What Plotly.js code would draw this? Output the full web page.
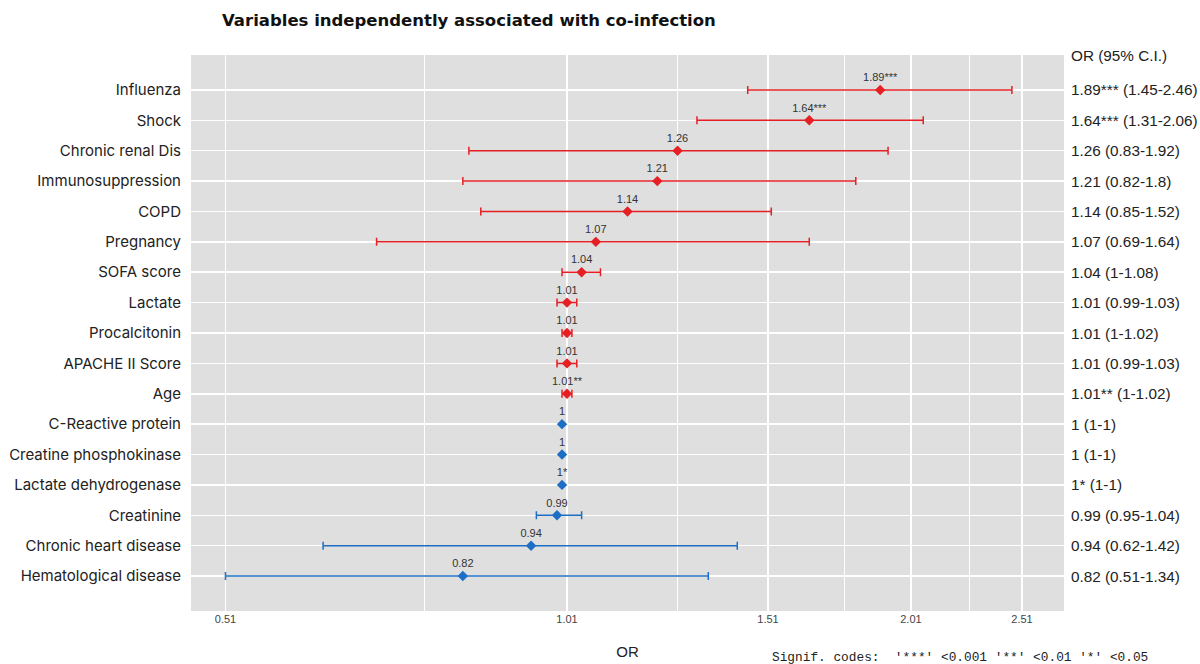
<!DOCTYPE html>
<html>
<head>
<meta charset="utf-8">
<script src="https://cdn.plot.ly/plotly-3.0.1.min.js"></script>
<style>
html,body{margin:0;padding:0;background:#fff;}
#chart{width:1200px;height:664px;}
</style>
</head>
<body>
<div id="chart"></div>
<script>
// ---- data ----
const variables = ["Influenza","Shock","Chronic renal Dis","Immunosuppression","COPD","Pregnancy",
  "SOFA score","Lactate","Procalcitonin","APACHE II Score","Age","C-Reactive protein",
  "Creatine phosphokinase","Lactate dehydrogenase","Creatinine","Chronic heart disease","Hematological disease"];
const oddsRatio = [1.89,1.64,1.26,1.21,1.14,1.07,1.04,1.01,1.01,1.01,1.01,1,1,1,0.99,0.94,0.82];
const ciLower   = [1.45,1.31,0.83,0.82,0.85,0.69,1,0.99,1,0.99,1,1,1,1,0.95,0.62,0.51];
const ciUpper   = [2.46,2.06,1.92,1.8,1.52,1.64,1.08,1.03,1.02,1.03,1.02,1,1,1,1.04,1.42,1.34];
const signif    = ["***","***","","","","","","","","","**","","","*","","",""];
const xTickVals = [0.51,1.01,1.51,2.01,2.51];
const xMinorVals = [0.76,1.26,1.76,2.26];
const refLine = 1;

const RED = "#E51F24", BLUE = "#1D6FC6";

function buildTrace(filterFn, color){
  const idx = variables.map((v,i)=>i).filter(filterFn);
  return {
    type: "scatter",
    mode: "markers+text",
    x: idx.map(i=>oddsRatio[i]),
    y: idx.map(i=>variables[i]),
    text: idx.map(i=>oddsRatio[i] + signif[i]),
    textposition: "top center",
    textfont: {family: "Liberation Sans, Arial, sans-serif", size: 11, color: "#333"},
    marker: {symbol: "diamond", size: 8, color: color},
    error_x: {
      type: "data", symmetric: false,
      array: idx.map(i=>ciUpper[i]-oddsRatio[i]),
      arrayminus: idx.map(i=>oddsRatio[i]-ciLower[i]),
      color: color, thickness: 1.5, width: 4
    },
    hoverinfo: "x+y",
    showlegend: false,
    cliponaxis: false
  };
}

const traces = [
  buildTrace(i=>oddsRatio[i] > 1, RED),
  buildTrace(i=>oddsRatio[i] <= 1, BLUE)
];

const rightFont = {family: "Liberation Sans, Arial, sans-serif", size: 15.3, color: "#222"};
const annotations = variables.map((v,i)=>({
  xref: "paper", yref: "y", x: 1, y: v, xanchor: "left", yanchor: "middle", xshift: 5,
  text: oddsRatio[i] + signif[i] + " (" + ciLower[i] + "-" + ciUpper[i] + ")",
  showarrow: false,
  font: rightFont
}));
annotations.push({
  xref: "paper", yref: "paper", x: 1, y: 1, xanchor: "left", yanchor: "middle", xshift: 5,
  text: "OR (95% C.I.)", showarrow: false,
  font: rightFont
});
annotations.push({
  xref: "paper", yref: "paper", x: (770-191)/873, y: (611-657)/556, xanchor: "left", yanchor: "middle",
  text: "Signif. codes:  '***' <0.001 '**' <0.01 '*' <0.05", showarrow: false,
  font: {family: "Liberation Mono, DejaVu Sans Mono, monospace", size: 12.8, color: "#222"}
});

const layout = {
  width: 1200, height: 664,
  margin: {l: 191, r: 136, t: 55, b: 53},
  paper_bgcolor: "#ffffff",
  plot_bgcolor: "#DFDFDF",
  title: {
    text: "Variables independently associated with co-infection",
    x: 222/1200, xanchor: "left", xref: "container",
    y: 1 - 20/664, yanchor: "middle", yref: "container",
    font: {family: "DejaVu Sans, Inter, sans-serif", size: 16.5, weight: 700, color: "#111"}
  },
  xaxis: {
    type: "log",
    range: [-0.3224, 0.4362],
    tickmode: "array", tickvals: xTickVals, ticktext: xTickVals.map(String),
    tickfont: {family: "Liberation Sans, Arial, sans-serif", size: 11, color: "#444"},
    ticks: "", showgrid: true, gridcolor: "#ffffff", gridwidth: 1.5,
    minor: {tickmode: "array", tickvals: xMinorVals, showgrid: true, gridcolor: "#ffffff", gridwidth: 1, ticks: ""},
    zeroline: false, showline: false,
    title: {text: "OR", standoff: 22, font: {family: "Liberation Sans, Arial, sans-serif", size: 15, color: "#222"}}
  },
  yaxis: {
    type: "category",
    categoryorder: "array", categoryarray: variables,
    range: [17.15, -1.15],
    tickfont: {family: "Inter, Liberation Sans, sans-serif", size: 15, color: "#222"},
    ticks: "", ticklabelstandoff: 9,
    showgrid: true, gridcolor: "#ffffff", gridwidth: 1.5,
    zeroline: false, showline: false
  },
  shapes: [{
    type: "line", xref: "x", yref: "paper",
    x0: Math.log10(refLine), x1: Math.log10(refLine), y0: 0, y1: 1,
    line: {color: "#A8A8A8", width: 1.5, dash: "dash"},
    layer: "between"
  }],
  annotations: annotations
};

Plotly.newPlot("chart", traces, layout, {displayModeBar: false, staticPlot: true});
</script>
</body>
</html>
